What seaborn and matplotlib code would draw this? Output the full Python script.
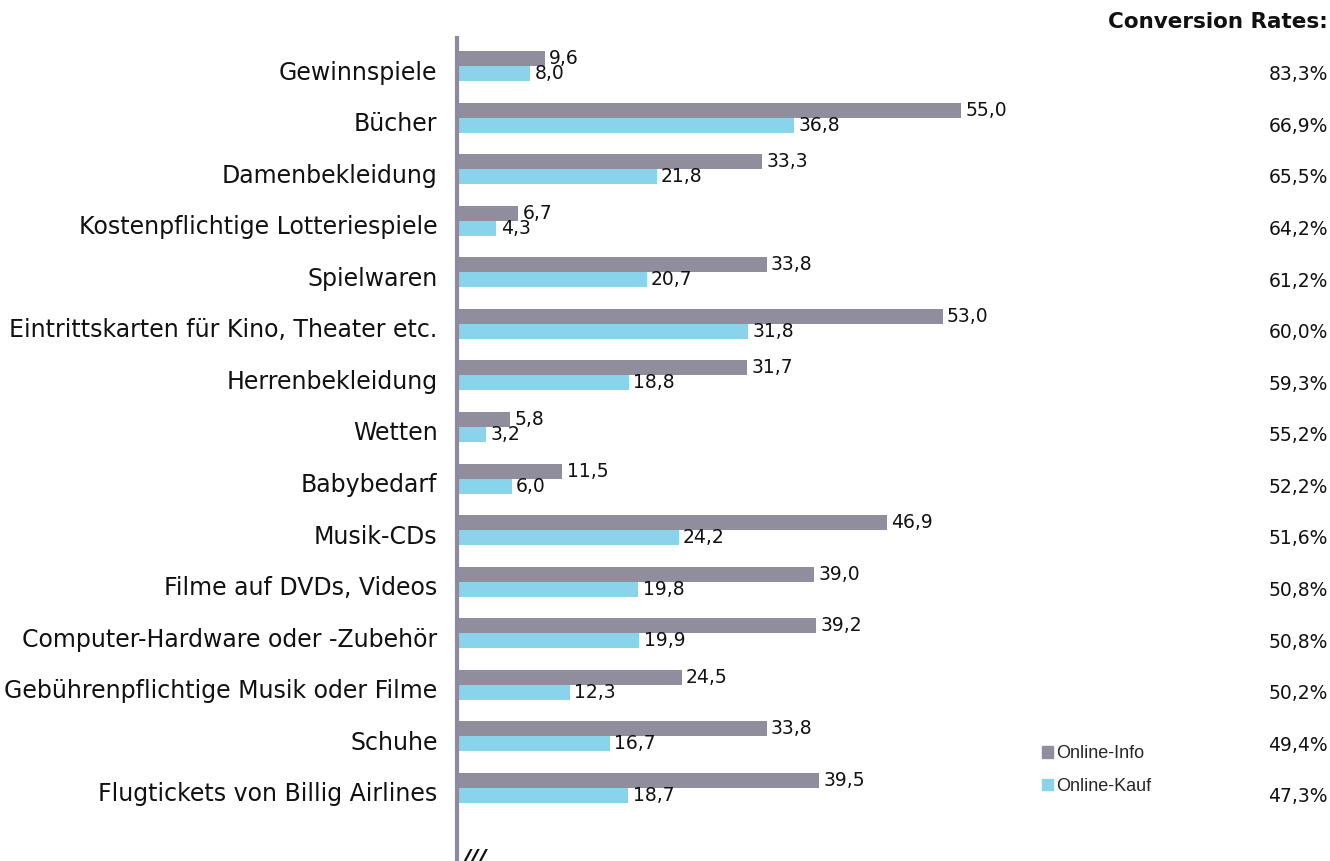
import numpy as np
import pandas as pd
import matplotlib
matplotlib.use("Agg")
import matplotlib.pyplot as plt
import matplotlib.transforms as mtransforms
import seaborn as sns

categories = [
    "Gewinnspiele",
    "Bücher",
    "Damenbekleidung",
    "Kostenpflichtige Lotteriespiele",
    "Spielwaren",
    "Eintrittskarten für Kino, Theater etc.",
    "Herrenbekleidung",
    "Wetten",
    "Babybedarf",
    "Musik-CDs",
    "Filme auf DVDs, Videos",
    "Computer-Hardware oder -Zubehör",
    "Gebührenpflichtige Musik oder Filme",
    "Schuhe",
    "Flugtickets von Billig Airlines",
]
online_info = [9.6, 55.0, 33.3, 6.7, 33.8, 53.0, 31.7, 5.8, 11.5, 46.9, 39.0, 39.2, 24.5, 33.8, 39.5]
online_kauf = [8.0, 36.8, 21.8, 4.3, 20.7, 31.8, 18.8, 3.2, 6.0, 24.2, 19.8, 19.9, 12.3, 16.7, 18.7]
conversion = ["83,3%", "66,9%", "65,5%", "64,2%", "61,2%", "60,0%", "59,3%", "55,2%",
              "52,2%", "51,6%", "50,8%", "50,8%", "50,2%", "49,4%", "47,3%"]
series_names = ["Online-Info", "Online-Kauf"]
colors = ["#908e9d", "#89d4ea"]

df = pd.DataFrame({
    "category": categories * 2,
    "series": [series_names[0]] * len(categories) + [series_names[1]] * len(categories),
    "value": online_info + online_kauf,
})

sns.set_style("white")
plt.rcParams["font.family"] = ["DejaVu Sans"]

W, H = 1330, 861
fig = plt.figure(figsize=(W / 100, H / 100), dpi=100)
ax_left, ax_right, ax_top = 457, 1050, 38
ax = fig.add_axes([ax_left / W, 0, (ax_right - ax_left) / W, 1 - ax_top / H])

sns.barplot(data=df, y="category", x="value", hue="series", orient="h",
            palette=colors, saturation=1, width=0.58, linewidth=0, ax=ax, legend=False)

px_per_unit = (962 - 458) / 55.0
ax.set_xlim(0, (ax_right - ax_left) / px_per_unit)
ax.set_ylim(len(categories) - 1 + 1.416, -0.543)

for cont in ax.containers:
    ax.bar_label(cont, labels=[f"{b.get_width():.1f}".replace(".", ",") for b in cont],
                 padding=3, fontsize=13.5, color="#111111")

ax.set_xlabel("")
ax.set_ylabel("")
ax.set_xticks([])
ax.tick_params(axis="y", length=0, pad=14, labelsize=17, labelcolor="#111111")
shift = mtransforms.ScaledTranslation(0, -4 / 100, fig.dpi_scale_trans)
for lab in ax.get_yticklabels():
    lab.set_transform(lab.get_transform() + shift)
for s in ["top", "right", "bottom"]:
    ax.spines[s].set_visible(False)
ax.spines["left"].set_color("#8b8aa0")
ax.spines["left"].set_linewidth(3)

# conversion rates column
trans = mtransforms.blended_transform_factory(fig.transFigure, ax.transData)
for i, rate in enumerate(conversion):
    ax.text(1328 / W, i + 0.17, rate, transform=trans, ha="right", va="center",
            fontsize=13.5, color="#111111")
fig.text(1328 / W, 1 - 22 / H, "Conversion Rates:", ha="right", va="center",
         fontsize=15.5, fontweight="bold", color="#111111")

handles = [plt.Rectangle((0, 0), 1, 1, color=c) for c in colors]
leg = fig.legend(handles, series_names, loc="upper left",
                 bbox_to_anchor=(1026 / W, 1 - 729 / H), frameon=False,
                 handlelength=0.6, handleheight=0.6, handletextpad=0.15,
                 labelspacing=0.85, prop={"family": "Liberation Sans", "size": 13})

fig.text(462 / W, 1 - 848 / H, "///", ha="left", va="top", fontsize=16,
         fontweight="bold", fontstyle="italic", color="#111111")

fig.savefig("out.png", dpi=100)
